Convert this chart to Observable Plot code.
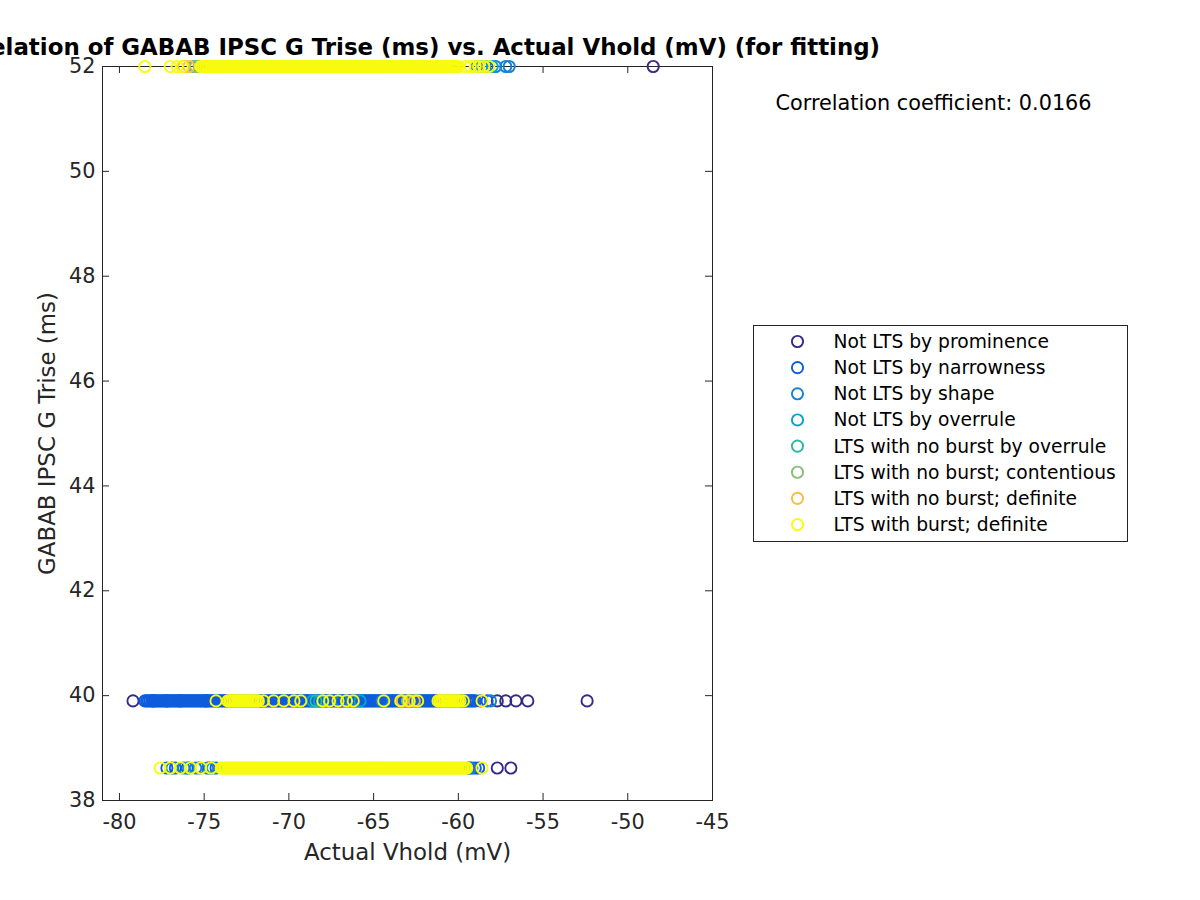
<!DOCTYPE html>
<html><head><meta charset="utf-8">
<script src="https://cdn.jsdelivr.net/npm/d3@7"></script>
<script src="https://cdn.jsdelivr.net/npm/@observablehq/plot@0.6"></script>
<style>
body{margin:0;background:#fff;}
#wrap{position:relative;width:1200px;height:900px;overflow:hidden;font-family:"DejaVu Sans";background:#fff;}
#legend{position:absolute;left:753px;top:325px;width:373px;height:215px;border:1px solid #262626;background:#fff;}
</style></head><body><div id="wrap"></div>
<script>
const categories = ["Not LTS by prominence","Not LTS by narrowness","Not LTS by shape","Not LTS by overrule","LTS with no burst by overrule","LTS with no burst; contentious","LTS with no burst; definite","LTS with burst; definite"];
const colors = ["#352a87","#0f5cdd","#1481d6","#06a4ca","#2eb7a4","#87bf77","#fbbc3d","#f9fb0e"];
const xTicks = [-80,-75,-70,-65,-60,-55,-50,-45];
const yTicks = [38,40,42,44,46,48,50,52];
const yTop = 52, yMid = 39.9, yLow = 38.62;
const titleText = "Correlation of GABAB IPSC G Trise (ms) vs. Actual Vhold (mV) (for fitting)";
const xLabel = "Actual Vhold (mV)";
const yLabel = "GABAB IPSC G Trise (ms)";
const corrText = "Correlation coefficient: 0.0166";

// Not LTS by prominence
const promTop = [-48.5];
const promMid = [-79.2,-78.0,-77.2,-76.4,-74.9,-58.7,-57.7,-57.2,-56.6,-55.9,-52.4];
const promLow = [-57.7,-56.9];
// Not LTS by narrowness
const narrTop = [-58.9,-58.3];
const narrMid = [-78.5,-78.4,-78.3,-78.2,-78.1,-78.0,
-77.9,-77.8,-77.7,-77.6,-77.5,-77.4,-77.3,-77.2,-77.1,-77.0,
-76.9,-76.8,-76.7,-76.6,-76.5,-76.4,-76.3,-76.2,-76.1,-76.0,
-75.9,-75.8,-75.7,-75.6,-75.5,-75.4,-75.3,-75.2,-75.1,-75.0,
-74.9,-74.8,-74.7,-74.6,-74.5,-74.4,-74.3,-74.2,-74.1,-74.0,
-73.9,-73.8,-73.7,-73.6,-73.5,-73.4,-73.3,-73.2,-73.1,-73.0,
-72.9,-72.8,-72.7,-72.6,-72.5,-72.4,-72.3,-72.2,-72.1,-72.0,
-71.9,-71.8,-71.7,-71.6,-71.5,-71.4,-71.3,-71.2,-71.1,-71.0,
-70.9,-70.8,-70.7,-70.6,-70.5,-70.4,-70.3,-70.2,-70.1,-70.0,
-69.9,-69.8,-69.7,-69.6,-69.5,-69.4,-69.3,-69.2,-69.1,-69.0,
-68.9,-68.8,-68.7,-68.6,-68.5,-68.4,-68.3,-68.2,-68.1,-68.0,
-67.9,-67.8,-67.7,-67.6,-67.5,-67.4,-67.3,-67.2,-67.1,-67.0,
-66.9,-66.8,-66.7,-66.6,-66.5,-66.4,-66.3,-66.2,-66.1,-66.0,
-65.9,-65.8,-65.7,-65.6,-65.5,-65.4,-65.3,-65.2,-65.1,-65.0,
-64.9,-64.8,-64.7,-64.6,-64.5,-64.4,-64.3,-64.2,-64.1,-64.0,
-63.9,-63.8,-63.7,-63.6,-63.5,-63.4,-63.3,-63.2,-63.1,-63.0,
-62.9,-62.8,-62.7,-62.6,-62.5,-62.4,-62.3,-62.2,-62.1,-62.0,
-61.9,-61.8,-61.7,-61.6,-61.5,-61.4,-61.3,-61.2,-61.1,-61.0,
-60.9,-60.8,-60.7,-60.6,-60.5,-60.4,-60.3,-60.2,-60.1,-60.0,
-59.9,-59.8,-59.7,-59.6,-59.5,-59.4,-59.3,-59.2,-59.1,-59.0,-58.3];
const narrLow = [-77.2,-76.7,-76.0,-75.3,-74.7,-74.3,-59.4,-59.2,-59.0,-58.8];
// Not LTS by shape
const shapeTop = [-57.8,-57.2,-57.0];
const shapeMid = [-66.9,-64.5,-58.1];
const shapeLow = [-76.9,-76.2,-75.5,-74.8,-59.3];
// Not LTS by overrule
const overTop = [-58.6,-58.0];
const overMid = [-68.6,-68.2,-65.8,-62.9];
const overLow = [-75.9,-74.5];
// LTS with no burst by overrule
const nbOverTop = [-75.6,-75.3];
const nbOverMid = [-68.4];
const nbOverLow = [];
// LTS with no burst; contentious
const nbContTop = [-75.5];
const nbContMid = [-63.0];
const nbContLow = [];
// LTS with no burst; definite
const nbDefTop = [-76.2,-75.9];
const nbDefMid = [-63.3,-62.6];
const nbDefLow = [];
// LTS with burst; definite
const burstTop = [-78.5,-77.0,-76.6,-76.3,-75.2,-75.1,-75.0,
-74.9,-74.8,-74.7,-74.6,-74.5,-74.4,-74.3,-74.2,-74.1,-74.0,
-73.9,-73.8,-73.7,-73.6,-73.5,-73.4,-73.3,-73.2,-73.1,-73.0,
-72.9,-72.8,-72.7,-72.6,-72.5,-72.4,-72.3,-72.2,-72.1,-72.0,
-71.9,-71.8,-71.7,-71.6,-71.5,-71.4,-71.3,-71.2,-71.1,-71.0,
-70.9,-70.8,-70.7,-70.6,-70.5,-70.4,-70.3,-70.2,-70.1,-70.0,
-69.9,-69.8,-69.7,-69.6,-69.5,-69.4,-69.3,-69.2,-69.1,-69.0,
-68.9,-68.8,-68.7,-68.6,-68.5,-68.4,-68.3,-68.2,-68.1,-68.0,
-67.9,-67.8,-67.7,-67.6,-67.5,-67.4,-67.3,-67.2,-67.1,-67.0,
-66.9,-66.8,-66.7,-66.6,-66.5,-66.4,-66.3,-66.2,-66.1,-66.0,
-65.9,-65.8,-65.7,-65.6,-65.5,-65.4,-65.3,-65.2,-65.1,-65.0,
-64.9,-64.8,-64.7,-64.6,-64.5,-64.4,-64.3,-64.2,-64.1,-64.0,
-63.9,-63.8,-63.7,-63.6,-63.5,-63.4,-63.3,-63.2,-63.1,-63.0,
-62.9,-62.8,-62.7,-62.6,-62.5,-62.4,-62.3,-62.2,-62.1,-62.0,
-61.9,-61.8,-61.7,-61.6,-61.5,-61.4,-61.3,-61.2,-61.1,-61.0,
-60.9,-60.8,-60.7,-60.6,-60.5,-60.4,-60.3,-60.2,-60.1,-60.0,
-59.6,-59.3,-59.0,-58.8,-58.5,-58.2];
const burstMid = [-74.3,-73.6,-73.5,-73.4,-73.3,-73.2,-73.1,-73.0,-72.9,-72.8,-72.7,-72.6,-72.5,-72.4,-72.3,-72.2,-72.1,-72.0,-71.9,-71.8,
-71.5,-70.9,-70.3,-69.7,-69.3,-68.0,-67.6,-67.1,-66.6,-66.2,-64.4,-63.4,-62.9,-62.4,
-61.2,-61.1,-61.0,-60.9,-60.8,-60.7,-60.6,-60.5,-60.4,-60.3,-60.2,-60.1,-60.0,-59.9,-59.7,-58.6];
const burstLow = [-77.6,-77.0,-76.4,-75.8,-75.2,-74.6,-74.0,
-73.9,-73.8,-73.7,-73.6,-73.5,-73.4,-73.3,-73.2,-73.1,-73.0,
-72.9,-72.8,-72.7,-72.6,-72.5,-72.4,-72.3,-72.2,-72.1,-72.0,
-71.9,-71.8,-71.7,-71.6,-71.5,-71.4,-71.3,-71.2,-71.1,-71.0,
-70.9,-70.8,-70.7,-70.6,-70.5,-70.4,-70.3,-70.2,-70.1,-70.0,
-69.9,-69.8,-69.7,-69.6,-69.5,-69.4,-69.3,-69.2,-69.1,-69.0,
-68.9,-68.8,-68.7,-68.6,-68.5,-68.4,-68.3,-68.2,-68.1,-68.0,
-67.9,-67.8,-67.7,-67.6,-67.5,-67.4,-67.3,-67.2,-67.1,-67.0,
-66.9,-66.8,-66.7,-66.6,-66.5,-66.4,-66.3,-66.2,-66.1,-66.0,
-65.9,-65.8,-65.7,-65.6,-65.5,-65.4,-65.3,-65.2,-65.1,-65.0,
-64.9,-64.8,-64.7,-64.6,-64.5,-64.4,-64.3,-64.2,-64.1,-64.0,
-63.9,-63.8,-63.7,-63.6,-63.5,-63.4,-63.3,-63.2,-63.1,-63.0,
-62.9,-62.8,-62.7,-62.6,-62.5,-62.4,-62.3,-62.2,-62.1,-62.0,
-61.9,-61.8,-61.7,-61.6,-61.5,-61.4,-61.3,-61.2,-61.1,-61.0,
-60.9,-60.8,-60.7,-60.6,-60.5,-60.4,-60.3,-60.2,-60.1,-60.0,
-59.9,-59.8,-59.7,-59.6,-59.5,-58.6];

const series = [
  [promTop, promMid, promLow],
  [narrTop, narrMid, narrLow],
  [shapeTop, shapeMid, shapeLow],
  [overTop, overMid, overLow],
  [nbOverTop, nbOverMid, nbOverLow],
  [nbContTop, nbContMid, nbContLow],
  [nbDefTop, nbDefMid, nbDefLow],
  [burstTop, burstMid, burstLow]
];
const rows = series.flatMap(([t, m, l], i) => [
  ...t.map(x => ({c: categories[i], x, y: yTop})),
  ...m.map(x => ({c: categories[i], x, y: yMid})),
  ...l.map(x => ({c: categories[i], x, y: yLow}))
]);

const axisColor = "#262626";
const dotR = 5.6, dotW = 1.9;
const chart = Plot.plot({
  width: 1200, height: 900,
  marginLeft: 102, marginRight: 488, marginTop: 66, marginBottom: 100,
  style: {fontFamily: "DejaVu Sans", fontSize: "20.8px", color: axisColor, background: "white"},
  x: {domain: [-81, -45]},
  y: {domain: [38, 52]},
  color: {domain: categories, range: colors},
  marks: [
    Plot.frame({stroke: axisColor, strokeWidth: 1}),
    Plot.tickX(xTicks, {x: d => d, insetTop: 727, stroke: axisColor}),
    Plot.tickX(xTicks, {x: d => d, insetBottom: 727, stroke: axisColor}),
    Plot.tickY(yTicks, {y: d => d, insetRight: 603, stroke: axisColor}),
    Plot.tickY(yTicks, {y: d => d, insetLeft: 603, stroke: axisColor}),
    Plot.dot(rows, {x: "x", y: "y", stroke: "c", r: dotR, strokeWidth: dotW, fill: "none"}),
    Plot.axisX({ticks: xTicks, tickSize: 0, tickPadding: 14, label: null, tickFormat: d => String(d)}),
    Plot.axisY({ticks: yTicks, tickSize: 0, tickPadding: 7, label: null, tickFormat: d => String(d)}),
    Plot.text([xLabel], {frameAnchor: "bottom", dy: 52, lineAnchor: "middle", textAnchor: "middle", fontSize: 22.9, fill: axisColor}),
    Plot.text([yLabel], {frameAnchor: "left", dx: -55, rotate: -90, lineAnchor: "middle", textAnchor: "middle", fontSize: 22.9, fill: axisColor}),
    Plot.text([titleText], {frameAnchor: "top", dy: -19, lineAnchor: "middle", textAnchor: "middle", fontSize: 22.9, fontWeight: "bold", fill: "black"}),
    Plot.text([corrText], {frameAnchor: "top-right", dx: 63, dy: 37, lineAnchor: "middle", textAnchor: "start", fontSize: 20.8, fill: "black"})
  ]
});
const wrap = document.getElementById("wrap");
wrap.appendChild(chart);

// legend
const ns = "http://www.w3.org/2000/svg";
const leg = document.createElement("div");
leg.id = "legend";
const lsvg = document.createElementNS(ns, "svg");
lsvg.setAttribute("width", 373); lsvg.setAttribute("height", 215);
categories.forEach((c, i) => {
  const cy = 15.5 + 26.15 * i;
  const circ = document.createElementNS(ns, "circle");
  circ.setAttribute("cx", 43.5); circ.setAttribute("cy", cy); circ.setAttribute("r", dotR);
  circ.setAttribute("fill", "none"); circ.setAttribute("stroke", colors[i]); circ.setAttribute("stroke-width", dotW);
  lsvg.appendChild(circ);
  const t = document.createElementNS(ns, "text");
  t.setAttribute("x", 79.5); t.setAttribute("y", cy);
  t.setAttribute("dominant-baseline", "central");
  t.setAttribute("font-family", "DejaVu Sans"); t.setAttribute("font-size", "18.7px"); t.setAttribute("fill", "black");
  t.textContent = c;
  lsvg.appendChild(t);
});
leg.appendChild(lsvg);
wrap.appendChild(leg);
</script></body></html>
